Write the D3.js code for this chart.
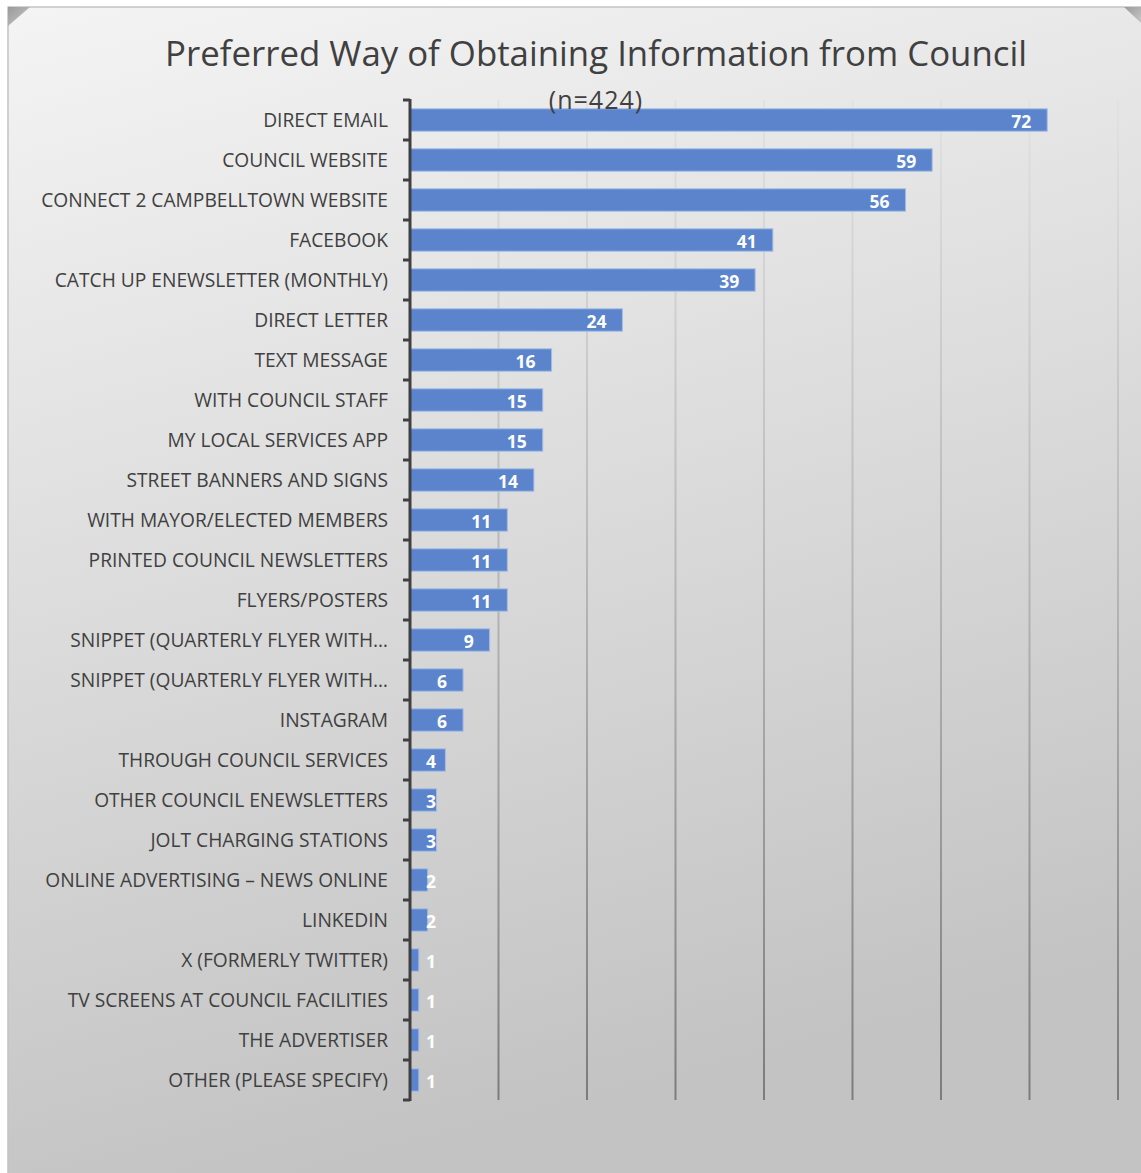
<!DOCTYPE html>
<html>
<head>
<meta charset="utf-8">
<script src="https://cdn.jsdelivr.net/npm/d3@7/dist/d3.min.js"></script>
<style>
  html, body { margin: 0; padding: 0; background: #ffffff; }
  svg { display: block; }
  text { font-family: "Open Sans", "Noto Sans", sans-serif; }
</style>
</head>
<body>
<svg id="chart" width="1141" height="1173"></svg>
<script>
// Survey responses: preferred channel for receiving council information
const categories = [
  "DIRECT EMAIL",
  "COUNCIL WEBSITE",
  "CONNECT 2 CAMPBELLTOWN WEBSITE",
  "FACEBOOK",
  "CATCH UP ENEWSLETTER (MONTHLY)",
  "DIRECT LETTER",
  "TEXT MESSAGE",
  "WITH COUNCIL STAFF",
  "MY LOCAL SERVICES APP",
  "STREET BANNERS AND SIGNS",
  "WITH MAYOR/ELECTED MEMBERS",
  "PRINTED COUNCIL NEWSLETTERS",
  "FLYERS/POSTERS",
  "SNIPPET (QUARTERLY FLYER WITH\u2026",
  "SNIPPET (QUARTERLY FLYER WITH\u2026 ",
  "INSTAGRAM",
  "THROUGH COUNCIL SERVICES",
  "OTHER COUNCIL ENEWSLETTERS",
  "JOLT CHARGING STATIONS",
  "ONLINE ADVERTISING \u2013 NEWS ONLINE",
  "LINKEDIN",
  "X (FORMERLY TWITTER)",
  "TV SCREENS AT COUNCIL FACILITIES",
  "THE ADVERTISER",
  "OTHER (PLEASE SPECIFY)"
];
const responses = [72, 59, 56, 41, 39, 24, 16, 15, 15, 14, 11, 11, 11, 9, 6, 6, 4, 3, 3, 2, 2, 1, 1, 1, 1];
const gridValues = [10, 20, 30, 40, 50, 60, 70, 80];
const titleText = "Preferred Way of Obtaining Information from Council";
const subtitleText = "(n=424)";

const svg = d3.select("#chart");
const W = 1141, H = 1173;
const defs = svg.append("defs");

// panel background: light at top-left fading to mid grey at the bottom
const bg = defs.append("linearGradient").attr("id", "bgGrad")
  .attr("x1", "0").attr("y1", "0").attr("x2", "0.25").attr("y2", "1");
bg.append("stop").attr("offset", "0").attr("stop-color", "#f4f4f4");
bg.append("stop").attr("offset", "0.5").attr("stop-color", "#dcdcdc");
bg.append("stop").attr("offset", "1").attr("stop-color", "#c3c3c3");

// gridlines darken towards the bottom of the plot
const gg = defs.append("linearGradient").attr("id", "gridGrad")
  .attr("gradientUnits", "userSpaceOnUse")
  .attr("x1", 0).attr("y1", 100).attr("x2", 0).attr("y2", 1100);
gg.append("stop").attr("offset", "0").attr("stop-color", "#e2e2e2");
gg.append("stop").attr("offset", "0.5").attr("stop-color", "#b4b4b4");
gg.append("stop").attr("offset", "1").attr("stop-color", "#7c7c7c");

const cornerGrad = defs.append("linearGradient").attr("id", "cornerGrad")
  .attr("x1", "0").attr("y1", "0").attr("x2", "1").attr("y2", "1");
cornerGrad.append("stop").attr("offset", "0").attr("stop-color", "#9a9a9a");
cornerGrad.append("stop").attr("offset", "1").attr("stop-color", "#c8c8c8");

// chart panel
svg.append("rect")
  .attr("x", 8).attr("y", 7)
  .attr("width", W - 8 + 2).attr("height", H - 7 + 2)
  .attr("fill", "url(#bgGrad)")
  .attr("stroke", "#c4c4c4").attr("stroke-width", 1.5);

// bevelled corners
svg.append("path").attr("d", "M8,7 L30,7 L8,26 Z").attr("fill", "url(#cornerGrad)");
svg.append("path").attr("d", "M1124,7 L1141,7 L1141,23 Z").attr("fill", "url(#cornerGrad)");

// scales
const x = d3.scaleLinear().domain([0, 80]).range([410, 1118]);
const y = d3.scaleBand().domain(categories).range([100, 1100])
  .paddingInner(0.44).paddingOuter(0.22);

// vertical gridlines
svg.append("g").selectAll("line").data(gridValues).join("line")
  .attr("x1", d => x(d)).attr("x2", d => x(d))
  .attr("y1", 100).attr("y2", 1100)
  .attr("stroke", "url(#gridGrad)").attr("stroke-width", 2);

// title
svg.append("text")
  .attr("x", 596).attr("y", 66)
  .attr("text-anchor", "middle")
  .attr("font-size", 34.8)
  .attr("fill", "#404040")
  .text(titleText);

// bars
svg.append("g").selectAll("rect").data(responses).join("rect")
  .attr("x", x(0))
  .attr("y", (d, i) => y(categories[i]))
  .attr("width", d => x(d) - x(0))
  .attr("height", y.bandwidth())
  .attr("fill", "#5b84cc")
  .attr("stroke", "#a5bde6").attr("stroke-width", 1);

// sample size, drawn over the plot
svg.append("text")
  .attr("x", 596).attr("y", 109)
  .attr("text-anchor", "middle")
  .attr("font-size", 25)
  .attr("letter-spacing", 1)
  .attr("fill", "#404040")
  .text(subtitleText);

// category axis with outward ticks at band boundaries
const axisG = svg.append("g");
axisG.append("line")
  .attr("x1", x(0)).attr("x2", x(0))
  .attr("y1", 99).attr("y2", 1101)
  .attr("stroke", "#404040").attr("stroke-width", 3);
const boundaries = d3.range(categories.length + 1).map(i => 100 + i * y.step());
axisG.selectAll("line.tick").data(boundaries).join("line")
  .attr("class", "tick")
  .attr("x1", x(0) - 7).attr("x2", x(0))
  .attr("y1", d => d).attr("y2", d => d)
  .attr("stroke", "#404040").attr("stroke-width", 3);

// category labels
svg.append("g").selectAll("text").data(categories).join("text")
  .attr("x", 388)
  .attr("y", d => y(d) + y.bandwidth() / 2)
  .attr("dy", "0.35em")
  .attr("text-anchor", "end")
  .attr("font-size", 19.2)
  .attr("fill", "#404040")
  .text(d => d.trim());

// value labels at the inside end of each bar
svg.append("g").selectAll("text").data(responses).join("text")
  .attr("x", d => Math.max(x(d) - 16, x(0) + 26))
  .attr("y", (d, i) => y(categories[i]) + y.bandwidth() / 2 + 2)
  .attr("dy", "0.35em")
  .attr("text-anchor", "end")
  .attr("font-size", 17.5)
  .attr("font-weight", "bold")
  .attr("fill", "#ffffff")
  .text(d => d);
</script>
</body>
</html>
